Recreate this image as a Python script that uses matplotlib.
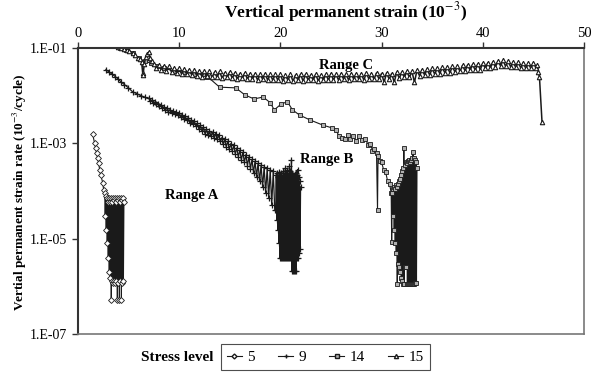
import matplotlib.pyplot as plt
from matplotlib.lines import Line2D

plt.rcParams['font.family'] = ['Liberation Serif', 'DejaVu Serif']
plt.rcParams['mathtext.fontset'] = 'stix'

# stress level 5
x5 = [1.45, 1.65, 1.75, 1.85, 1.95, 2.05, 2.15, 2.25, 2.45, 2.55,
      2.65, 2.7, 2.75, 2.8, 2.85, 2.9, 2.95, 3.0, 3.05, 3.1, 3.15, 3.2, 3.25,
      3.3, 3.35, 3.4, 3.45, 3.5, 3.55, 3.6, 3.65, 3.7, 3.75, 3.8, 3.85, 3.9,
      3.95, 4.0, 4.05, 4.1, 4.15, 4.2, 4.25, 4.3, 4.35, 4.4, 4.45, 4.5, 4.55]
y5 = [1.6e-3, 1.0e-3, 8e-4, 6.3e-4, 4.9e-4, 3.9e-4, 2.8e-4, 2.2e-4, 1.5e-4, 1.05e-4,
      9e-5, 3e-5, 8e-5, 1.5e-5, 7e-5, 8e-6, 6e-5, 4e-6, 7e-5, 2e-6, 6e-5, 1.5e-6, 7e-5,
      5.2e-7, 6e-5, 1.3e-6, 7e-5, 1.2e-6, 6.5e-5, 1.3e-6, 7e-5, 1.2e-6, 6e-5, 1.3e-6, 7e-5, 5.2e-7,
      6.5e-5, 1.2e-6, 7e-5, 5.2e-7, 6e-5, 1.3e-6, 7e-5, 5.2e-7, 6.5e-5, 1.2e-6, 7e-5, 1.3e-6, 6e-5]

# stress level 9
x9 = [2.77, 3.1, 3.4, 3.7, 4.0, 4.3, 4.6, 5.0, 5.4, 5.8, 6.2, 6.6,
      7.0, 7.15, 7.3, 7.45, 7.6, 7.75, 7.9, 8.05, 8.2, 8.35, 8.5, 8.65, 8.8, 8.95, 9.1,
      9.25, 9.4, 9.55, 9.7, 9.85, 10.0, 10.15, 10.3, 10.45, 10.6, 10.75, 10.9, 11.05,
      11.2, 11.35, 11.5, 11.65, 11.8, 11.95, 12.1, 12.25, 12.4, 12.55, 12.7, 12.85, 13.0,
      13.15, 13.3, 13.45, 13.6, 13.75, 13.9, 14.05, 14.2, 14.35, 14.5, 14.65, 14.8, 14.95,
      15.1, 15.25, 15.4, 15.55, 15.7, 15.85, 16.0, 16.15, 16.3, 16.45, 16.6, 16.75, 16.9,
      17.05, 17.2, 17.35, 17.5, 17.65, 17.8, 17.95, 18.1, 18.25, 18.4, 18.55, 18.7, 18.85,
      19.0, 19.15, 19.3, 19.45,
      19.55, 19.6, 19.65, 19.7, 19.75, 19.8, 19.85, 19.9, 19.95, 20.0, 20.05, 20.1, 20.15,
      20.2, 20.25, 20.3, 20.35, 20.4, 20.45, 20.5, 20.55, 20.6, 20.65, 20.7, 20.75, 20.8,
      20.85, 20.9, 20.95, 21.0, 21.05, 21.1, 21.15, 21.2, 21.25, 21.3, 21.35, 21.4, 21.45,
      21.5, 21.55, 21.6, 21.65, 21.7, 21.75, 21.8, 21.85, 21.9, 21.95, 22.0]
y9 = [0.035, 0.031, 0.028, 0.025, 0.022, 0.019, 0.017, 0.0145, 0.012, 0.011, 0.010, 0.0092,
      0.0087, 0.0078, 0.0080, 0.0071, 0.0073, 0.0065, 0.0068, 0.0060, 0.0063, 0.0055, 0.0058,
      0.0051, 0.0054, 0.0046, 0.0051, 0.0044, 0.0048, 0.0042, 0.0046, 0.0039, 0.0044, 0.0036,
      0.0040, 0.0033, 0.0037, 0.0030, 0.0034, 0.0027, 0.0031, 0.0025, 0.0029, 0.0023, 0.0026,
      0.0020, 0.0024, 0.0018, 0.0022, 0.0016, 0.0020, 0.0015, 0.0018, 0.0014, 0.0017, 0.0013,
      0.0016, 0.0012, 0.0015, 0.0011, 0.0013, 0.00095, 0.0012, 0.00085, 0.0011, 0.00075,
      0.00098, 0.00068, 0.00090, 0.00060, 0.00080, 0.00052, 0.00072, 0.00045, 0.00065,
      0.00040, 0.00058, 0.00034, 0.00052, 0.00029, 0.00046, 0.00024, 0.00042, 0.00020,
      0.00038, 0.00016, 0.00035, 0.00012, 0.00032, 9e-5, 0.00030, 7e-5, 0.00028, 5e-5,
      0.00026, 4e-5,
      4e-5, 2.2e-4, 2.5e-5, 2.4e-4, 1.5e-5, 2.0e-4, 8e-6, 2.5e-4, 4e-6, 2.2e-4, 4e-6, 2.4e-4,
      4e-6, 2.0e-4, 4e-6, 2.6e-4, 4e-6, 2.2e-4, 4e-6, 3e-4, 4e-6, 2.4e-4, 4e-6, 2.8e-4, 4e-6,
      2.2e-4, 4e-6, 3.3e-4, 4e-6, 2.6e-4, 4e-6, 4.5e-4, 2.1e-6, 2.4e-4, 2.1e-6, 2.2e-4, 2.1e-6,
      2.3e-4, 2.1e-6, 2.4e-4, 2.1e-6, 2.2e-4, 4e-6, 2.8e-4, 4e-6, 2.0e-4, 5e-6, 1.6e-4, 6e-6,
      1.2e-4]

# stress level 14
x14 = [4.2, 4.8, 5.4, 6.0, 6.6, 7.2, 7.8, 8.5, 9.5, 10.5, 11.5, 12.4, 12.8, 14.0, 15.6,
       16.5, 17.4, 18.3, 19.0, 19.4, 20.1, 20.7, 21.2, 21.9, 22.9, 24.2, 25.1, 25.5, 25.8,
       26.1, 26.4, 26.7, 26.9, 27.2, 27.5, 27.8, 28.1, 28.4, 28.7, 28.9, 29.1, 29.3, 29.5,
       29.6, 29.65, 29.8, 30.0, 30.2, 30.4, 30.6, 30.8, 30.95, 31.0, 31.05,
       31.1, 31.15, 31.2, 31.25, 31.3, 31.35, 31.4, 31.45, 31.5, 31.55, 31.6, 31.65, 31.7,
       31.75, 31.8, 31.85, 31.9, 31.95, 32.0, 32.05, 32.1, 32.15, 32.2, 32.25, 32.3, 32.35,
       32.4, 32.45, 32.5, 32.55, 32.6, 32.65, 32.7, 32.75, 32.8, 32.85, 32.9, 32.95, 33.0,
       33.05, 33.1, 33.15, 33.2, 33.25, 33.3, 33.35, 33.4, 33.45, 33.5]
y14 = [0.1, 0.09, 0.078, 0.062, 0.052, 0.048, 0.042, 0.037, 0.033, 0.031, 0.029, 0.028,
       0.025, 0.015, 0.0145, 0.0103, 0.0085, 0.0093, 0.0071, 0.0050, 0.0067, 0.0074, 0.0050,
       0.0039, 0.0031, 0.0024, 0.0021, 0.0019, 0.0014, 0.0013, 0.0012, 0.0015, 0.00125,
       0.0014, 0.0011, 0.0014, 0.00115, 0.0012, 0.00092, 0.00098, 0.0007, 0.00075, 0.00063,
       4e-5, 5.5e-4, 4.3e-4, 4.0e-4, 2.8e-4, 2.5e-4, 1.6e-4, 1.4e-4, 9e-5, 8.5e-6, 9e-5,
       1.1e-4, 3e-5, 1.2e-4, 1.5e-5, 1.1e-4, 8e-6, 1.3e-4, 5e-6, 1.2e-4, 1.1e-6, 1.4e-4, 3e-6,
       1.6e-4, 2.5e-6, 1.8e-4, 2e-6, 2.2e-4, 1.5e-6, 2.6e-4, 1.3e-6, 3e-4, 1.1e-6, 8e-4,
       1.1e-6, 3.5e-4, 2.5e-6, 4e-4, 2.5e-6, 3.8e-4, 1.1e-6, 4.2e-4, 1.1e-6, 4.5e-4, 1.1e-6,
       4e-4, 1.1e-6, 4.5e-4, 1.1e-6, 5e-4, 1.1e-6, 6.5e-4, 1.1e-6, 5e-4, 1.1e-6, 4.5e-4,
       1.2e-6, 4e-4, 1.2e-6, 3e-4]

# stress level 15
x15 = [3.8, 4.0, 4.3, 4.6, 4.9, 5.1, 5.4, 5.6, 5.9, 6.1, 6.3, 6.4, 6.45, 6.55, 6.7, 6.85,
       7.0, 7.15, 7.3,
       7.5, 7.75, 8.0, 8.25, 8.5, 8.75, 9.0, 9.25, 9.5, 9.75, 10.0, 10.25, 10.5, 10.75,
       11.0, 11.25, 11.5, 11.75, 12.0, 12.25, 12.5, 12.75, 13.0, 13.25, 13.5, 13.75, 14.0,
       14.25, 14.5, 14.75, 15.0, 15.25, 15.5, 15.75, 16.0, 16.25, 16.5, 16.75, 17.0, 17.25,
       17.5, 17.75, 18.0, 18.25, 18.5, 18.75, 19.0, 19.25, 19.5, 19.75, 20.0, 20.25, 20.5,
       20.75, 21.0, 21.25, 21.5, 21.75, 22.0, 22.25, 22.5, 22.75, 23.0, 23.25, 23.5, 23.75,
       24.0, 24.25, 24.5, 24.75, 25.0, 25.25, 25.5, 25.75, 26.0, 26.25, 26.5, 26.75, 27.0,
       27.25, 27.5, 27.75, 28.0, 28.25, 28.5, 28.75, 29.0, 29.25, 29.5, 29.75, 30.0, 30.25,
       30.5, 30.75, 31.0, 31.25, 31.5, 31.75, 32.0, 32.25, 32.5, 32.75, 33.0, 33.25, 33.5,
       33.75, 34.0, 34.25, 34.5, 34.75, 35.0, 35.25, 35.5, 35.75, 36.0, 36.25, 36.5, 36.75,
       37.0, 37.25, 37.5, 37.75, 38.0, 38.25, 38.5, 38.75, 39.0, 39.25, 39.5, 39.75, 40.0,
       40.25, 40.5, 40.75, 41.0, 41.25, 41.5, 41.75, 42.0, 42.25, 42.5, 42.75, 43.0, 43.25,
       43.5, 43.75, 44.0, 44.25, 44.5, 44.75, 45.0, 45.25,
       45.4, 45.5, 45.6, 45.85]
y15 = [0.115, 0.105, 0.1, 0.095, 0.09, 0.085, 0.078, 0.072, 0.062, 0.058, 0.05, 0.03, 0.027,
       0.045, 0.065, 0.075, 0.082, 0.06, 0.052,
       0.046, 0.037, 0.044, 0.034, 0.042, 0.033, 0.041, 0.031,
       0.038, 0.030, 0.037, 0.028, 0.036, 0.028, 0.035, 0.027,
       0.034, 0.026, 0.033, 0.025, 0.032, 0.026, 0.032, 0.024,
       0.031, 0.024, 0.032, 0.023, 0.030, 0.024, 0.031, 0.023,
       0.030, 0.022, 0.029, 0.023, 0.030, 0.022, 0.029, 0.022,
       0.029, 0.021, 0.028, 0.022, 0.029, 0.021, 0.028, 0.021,
       0.028, 0.021, 0.028, 0.020, 0.027, 0.021, 0.028, 0.020,
       0.027, 0.021, 0.028, 0.020, 0.028, 0.021, 0.027, 0.021,
       0.028, 0.020, 0.027, 0.021, 0.028, 0.021, 0.029, 0.021,
       0.028, 0.021, 0.029, 0.022, 0.028, 0.021, 0.029, 0.022,
       0.029, 0.022, 0.029, 0.021, 0.030, 0.022, 0.029, 0.022,
       0.030, 0.022, 0.029, 0.019, 0.030, 0.022, 0.029, 0.019,
       0.031, 0.023, 0.031, 0.024, 0.032, 0.024, 0.032, 0.019,
       0.034, 0.026, 0.035, 0.027, 0.036, 0.027, 0.037, 0.028,
       0.038, 0.029, 0.039, 0.030, 0.040, 0.030, 0.041, 0.031,
       0.042, 0.032, 0.043, 0.033, 0.044, 0.034, 0.045, 0.034,
       0.046, 0.035, 0.048, 0.037, 0.049, 0.038, 0.051, 0.040,
       0.053, 0.042, 0.055, 0.041, 0.053, 0.040, 0.051, 0.039,
       0.050, 0.038, 0.049, 0.037, 0.048, 0.037, 0.049, 0.038,
       0.044, 0.031, 0.024, 0.0028]

fig = plt.figure(figsize=(5.99, 3.74), dpi=100)
ax = fig.add_axes([0.130, 0.107, 0.845, 0.765])

lc = '#1a1a1a'
ax.plot(x5, y5, color=lc, lw=0.8, marker='D', ms=3, mfc='white', mec=lc, mew=0.6)
ax.plot(x9, y9, color=lc, lw=0.9, marker='+', ms=4.5, mec=lc, mew=0.9)
ax.plot(x14, y14, color=lc, lw=0.8, marker='s', ms=3.5, mfc='#b0b0b0', mec=lc, mew=0.6)
ax.plot(x15, y15, color=lc, lw=1.1, marker='^', ms=3.2, mfc='white', mec=lc, mew=0.8)

ax.set_yscale('log')
ax.set_ylim(1e-7, 1e-1)
ax.set_xlim(0, 50)
ax.set_yticks([1e-1, 1e-3, 1e-5, 1e-7])
ax.set_yticklabels(['1.E-01', '1.E-03', '1.E-05', '1.E-07'])
ax.minorticks_off()
ax.xaxis.tick_top()
ax.set_xticks([0, 10, 20, 30, 40, 50])
ax.tick_params(labelsize=10.5, length=4, color='#333333', width=1)
ax.tick_params(axis='y', labelsize=10)
ax.tick_params(axis='x', pad=2)

for side in ['left', 'top']:
    ax.spines[side].set_color('#333333')
    ax.spines[side].set_linewidth(1.5)
for side in ['right', 'bottom']:
    ax.spines[side].set_color('#777777')
    ax.spines[side].set_linewidth(1.2)

# axis titles
fig.text(0.576, 0.968, 'Vertical permanent strain (10$^{-3}$)', fontsize=12.5,
         fontweight='bold', ha='center', va='center')
fig.text(0.033, 0.487, 'Vertial permanent strain rate (10$^{-3}$/cycle)', fontsize=9.5,
         fontweight='bold', ha='center', va='center', rotation=90)

ax.text(11.2, 8e-5, 'Range A', fontsize=10.5, fontweight='bold', ha='center', va='center')
ax.text(24.6, 4.5e-4, 'Range B', fontsize=10.5, fontweight='bold', ha='center', va='center')
ax.text(26.5, 0.042, 'Range C', fontsize=10.5, fontweight='bold', ha='center', va='center')

handles = [
    Line2D([], [], color=lc, lw=0.8, marker='D', ms=2.5, mfc='white', mec=lc),
    Line2D([], [], color=lc, lw=0.8, marker='+', ms=3.5, mec=lc),
    Line2D([], [], color=lc, lw=0.8, marker='s', ms=3, mfc='#b0b0b0', mec=lc),
    Line2D([], [], color=lc, lw=0.8, marker='^', ms=3, mfc='white', mec=lc),
]
leg = fig.legend(handles, ['5', '9', '14', '15'], loc='center', bbox_to_anchor=(0.543, 0.045),
                 ncol=4, fontsize=11, frameon=True, fancybox=False, handlelength=1.0,
                 handletextpad=0.35, columnspacing=1.5, borderpad=0.4)
leg.get_frame().set_edgecolor('#222222')
leg.get_frame().set_linewidth(0.8)
fig.text(0.2955, 0.045, 'Stress level', fontsize=11, fontweight='bold', ha='center', va='center')

plt.savefig('out.png', dpi=100)
